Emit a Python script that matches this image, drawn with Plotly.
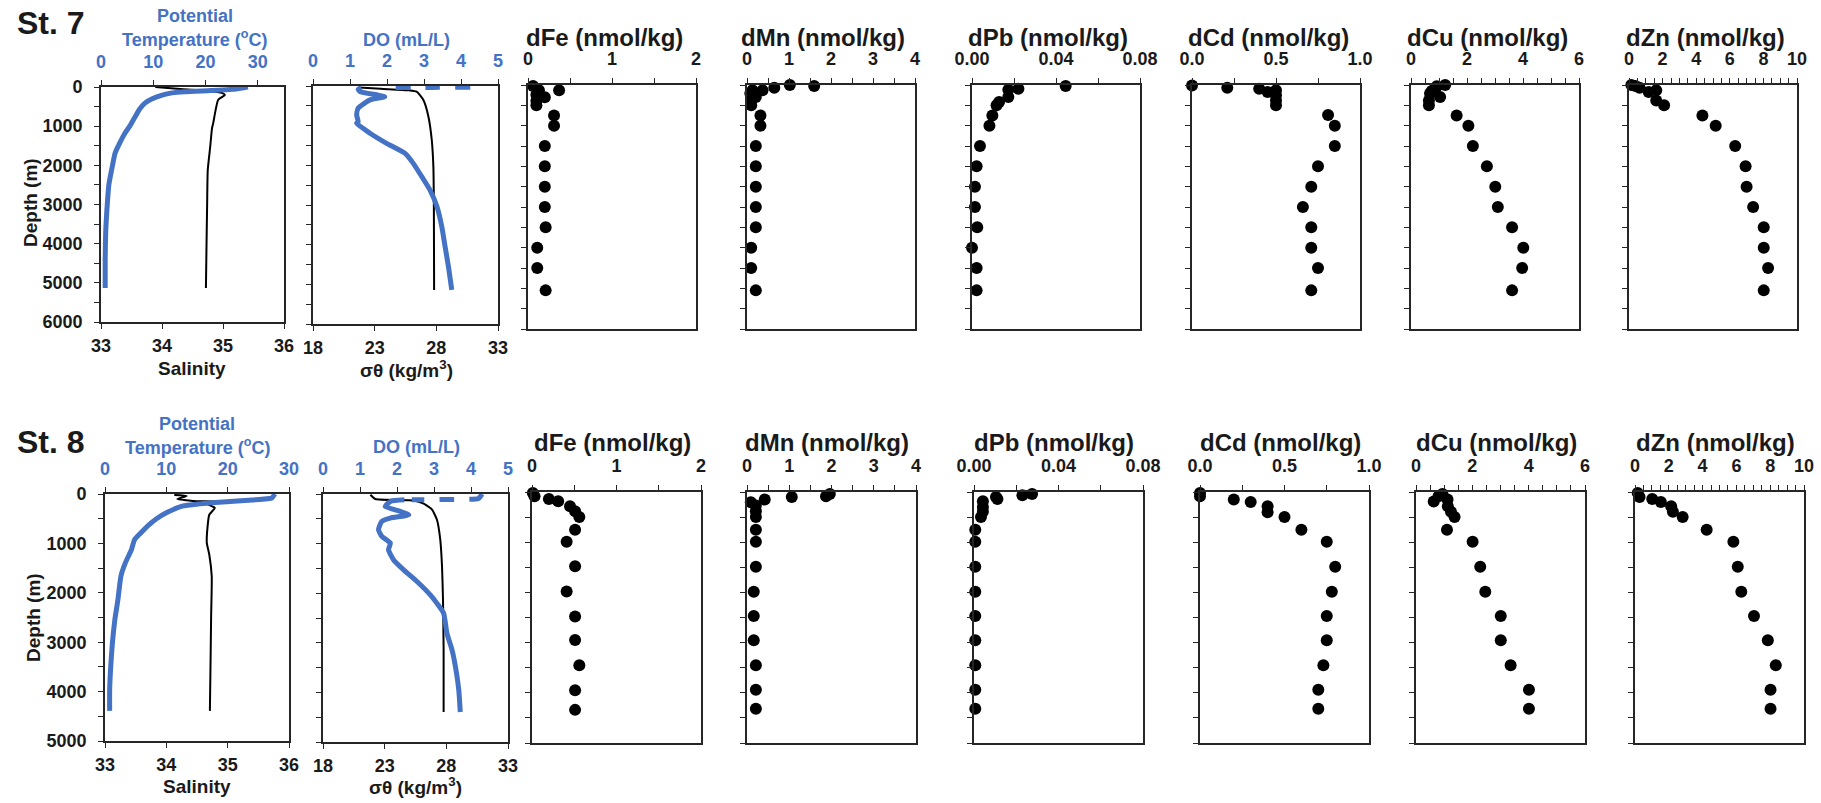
import plotly.graph_objects as go

W, H = 1821, 803
BLUE = "#4472C4"
LC = "#262626"
TC = "#1a1a1a"
FONT = "Liberation Sans"

# ---------------- Station 7 CTD ----------------
temp7_depth = [0, 25, 60, 90, 120, 150, 205, 300, 410, 560, 765, 1000, 1175, 1450, 1685, 2070, 2500, 3000, 3700, 4400, 5130]
temp7 = [28.1, 27.0, 25.0, 21.0, 16.0, 13.6, 11.7, 9.8, 8.4, 7.4, 6.5, 5.5, 4.6, 3.5, 2.7, 2.1, 1.5, 1.2, 0.9, 0.8, 0.8]
sal7_depth = [0, 50, 100, 150, 205, 330, 660, 920, 1050, 1530, 2120, 3000, 4000, 5130]
sal7 = [33.89, 34.30, 34.75, 34.98, 35.03, 34.92, 34.87, 34.84, 34.82, 34.79, 34.75, 34.74, 34.73, 34.72]
do7_surf_depth = [30, 35, 40]
do7_surf = [4.25, 3.20, 2.00]
do7_depth = [40, 85, 140, 230, 270, 350, 560, 730, 900, 940, 1190, 1445, 1700, 1950, 2285, 2620, 3040, 3545, 4050, 4550, 5140]
do7 = [1.30, 1.22, 1.27, 1.76, 1.94, 1.54, 1.22, 1.18, 1.22, 1.18, 1.54, 1.99, 2.49, 2.71, 2.94, 3.16, 3.35, 3.48, 3.57, 3.66, 3.75]
sig7_depth = [35, 70, 110, 143, 353, 773, 1361, 2033, 3000, 5140]
sig7 = [21.7, 23.5, 25.8, 26.4, 26.95, 27.36, 27.63, 27.76, 27.80, 27.82]

# ---------------- Station 7 metals (nmol/kg) ----------------
dFe7_depth = [25, 90, 130, 130, 240, 300, 390, 500, 750, 1000, 1500, 2000, 2500, 3000, 3500, 4000, 4500, 5050]
dFe7 = [0.06, 0.11, 0.13, 0.37, 0.10, 0.20, 0.10, 0.10, 0.31, 0.31, 0.20, 0.20, 0.20, 0.20, 0.21, 0.11, 0.11, 0.21]
dMn7_depth = [0, 25, 65, 130, 130, 200, 295, 375, 500, 750, 1000, 1500, 2000, 2500, 3000, 3500, 4000, 4500, 5050]
dMn7 = [1.02, 1.60, 0.65, 0.37, 0.13, 0.08, 0.21, 0.10, 0.10, 0.32, 0.32, 0.21, 0.21, 0.21, 0.21, 0.21, 0.10, 0.10, 0.21]
dPb7_depth = [25, 90, 115, 295, 420, 500, 750, 1000, 1500, 2000, 2500, 3000, 3500, 4000, 4500, 5050]
dPb7 = [0.0446, 0.0221, 0.0173, 0.0173, 0.0129, 0.0117, 0.0097, 0.0083, 0.0038, 0.0022, 0.0014, 0.0014, 0.0025, 0.0000, 0.0022, 0.0022]
dCd7_depth = [10, 65, 90, 170, 130, 250, 380, 500, 740, 1000, 1500, 2000, 2500, 3000, 3500, 4000, 4500, 5050]
dCd7 = [0.00, 0.21, 0.40, 0.45, 0.50, 0.50, 0.50, 0.50, 0.81, 0.85, 0.85, 0.75, 0.71, 0.66, 0.71, 0.71, 0.75, 0.71]
dCu7_depth = [0, 30, 90, 150, 210, 295, 380, 500, 750, 1000, 1500, 2000, 2500, 3000, 3500, 4000, 4500, 5050]
dCu7 = [1.22, 0.92, 0.86, 0.74, 0.68, 1.04, 0.64, 0.64, 1.63, 2.05, 2.21, 2.71, 3.01, 3.10, 3.61, 4.01, 3.97, 3.61]
dZn7_depth = [0, 25, 65, 170, 130, 380, 500, 750, 1000, 1500, 2000, 2500, 3000, 3500, 4000, 4500, 5050]
dZn7 = [0.14, 0.38, 0.63, 1.17, 1.62, 1.62, 2.09, 4.37, 5.16, 6.32, 6.94, 7.00, 7.39, 8.02, 8.02, 8.28, 8.02]

# ---------------- Station 8 CTD ----------------
temp8_depth = [0, 80, 120, 160, 200, 245, 380, 500, 620, 780, 930, 1130, 1400, 1660, 2145, 2550, 3025, 3500, 3970, 4390]
temp8 = [27.7, 27.2, 24.0, 19.2, 15.4, 12.6, 10.0, 8.4, 7.2, 5.9, 4.8, 4.3, 3.3, 2.6, 2.1, 1.6, 1.2, 0.93, 0.76, 0.76]
sal8_depth = [20, 40, 100, 140, 160, 200, 280, 420, 690, 990, 1225, 1660, 2500, 3500, 4390]
sal8 = [34.13, 34.33, 34.18, 34.43, 34.87, 34.66, 34.79, 34.70, 34.67, 34.66, 34.70, 34.74, 34.73, 34.72, 34.71]
do8_surf_depth = [0, 90, 110, 118]
do8_surf = [4.30, 4.20, 3.30, 2.40]
do8_depth = [118, 150, 250, 350, 420, 485, 550, 720, 855, 990, 1125, 1330, 1530, 1765, 2035, 2205, 2405, 2810, 3150, 3485, 3955, 4395]
do8 = [2.20, 1.82, 1.68, 2.09, 2.32, 1.82, 1.59, 1.50, 1.59, 1.82, 1.77, 1.91, 2.18, 2.54, 2.90, 3.08, 3.26, 3.35, 3.49, 3.58, 3.67, 3.71]
sig8_depth = [15, 100, 130, 195, 315, 520, 925, 1460, 2135, 3150, 4395]
sig8 = [21.84, 22.24, 25.35, 26.16, 26.84, 27.24, 27.51, 27.65, 27.73, 27.78, 27.78]

# ---------------- Station 8 metals (nmol/kg) ----------------
dFe8_depth = [20, 86, 140, 186, 285, 385, 500, 750, 990, 1480, 1980, 2480, 2950, 3450, 3950, 4340]
dFe8 = [0.01, 0.03, 0.20, 0.31, 0.45, 0.51, 0.56, 0.51, 0.41, 0.51, 0.41, 0.51, 0.51, 0.56, 0.51, 0.51]
dMn8_depth = [40, 86, 100, 150, 205, 270, 385, 500, 750, 990, 1490, 1985, 2470, 2955, 3450, 3940, 4320]
dMn8 = [1.96, 1.87, 1.06, 0.42, 0.09, 0.21, 0.21, 0.21, 0.21, 0.21, 0.21, 0.16, 0.16, 0.16, 0.21, 0.21, 0.21]
dPb8_depth = [40, 66, 100, 140, 186, 300, 392, 500, 750, 990, 1490, 1985, 2470, 2955, 3450, 3940, 4320]
dPb8 = [0.0275, 0.0229, 0.0104, 0.0111, 0.0042, 0.0042, 0.0042, 0.0033, 0.0006, 0.0006, 0.0006, 0.0006, 0.0006, 0.0006, 0.0006, 0.0006, 0.0006]
dCd8_depth = [20, 86, 150, 200, 285, 405, 500, 750, 990, 1490, 1985, 2470, 2955, 3450, 3940, 4320]
dCd8 = [0.00, 0.00, 0.20, 0.30, 0.40, 0.40, 0.50, 0.60, 0.75, 0.80, 0.78, 0.75, 0.75, 0.73, 0.70, 0.70]
dCu8_depth = [40, 86, 150, 190, 285, 392, 500, 750, 990, 1490, 1985, 2470, 2955, 3450, 3940, 4320]
dCu8 = [0.94, 0.80, 1.12, 0.63, 1.13, 1.24, 1.37, 1.10, 2.01, 2.28, 2.46, 3.01, 3.01, 3.36, 4.01, 4.01]
dZn8_depth = [20, 100, 140, 200, 285, 392, 500, 750, 990, 1490, 1985, 2470, 2955, 3450, 3940, 4320]
dZn8 = [0.16, 0.27, 1.02, 1.53, 2.14, 2.24, 2.82, 4.24, 5.82, 6.08, 6.29, 7.04, 7.86, 8.33, 8.02, 8.02]

# ---------------- axis tick settings ----------------
metal_names = ["dFe", "dMn", "dPb", "dCd", "dCu", "dZn"]
metal_max = [2, 4, 0.08, 1.0, 6, 10]
metal_dtick = [1, 1, 0.04, 0.5, 2, 2]
metal_minor = [0.5, 0.5, 0.02, 0.25, 0.5, 0.5]
metal_fmt = ["d", "d", ".2f", ".1f", "d", "d"]
temp_ticks = [0, 10, 20, 30]
sal_ticks = [33, 34, 35, 36]
do_ticks = [0, 1, 2, 3, 4, 5]
sig_ticks = [18, 23, 28, 33]

# ---------------- layout helpers ----------------
fig = go.Figure()
layout = {}
annotations = []
cnt = {"x": 0, "y": 0}


def new(p):
    cnt[p] += 1
    return cnt[p]


def ref(p, i):
    return p if i == 1 else f"{p}{i}"


def key(p, i):
    return f"{p}axis" if i == 1 else f"{p}axis{i}"


def tfont(color=TC, size=18):
    return dict(family=FONT, size=size, color=color, weight="bold")


AX = dict(showgrid=False, zeroline=False, showline=True, linecolor=LC, linewidth=1.6,
          ticks="outside", ticklen=5, tickwidth=1.3, tickcolor=LC, tickfont=tfont())
MINOR = dict(ticks="outside", ticklen=5, tickwidth=1.3, tickcolor=LC)


def txt(s, x, y, size, color=TC, xanchor="center", angle=0):
    annotations.append(dict(text=s, x=x / W, y=1 - y / H, xref="paper", yref="paper",
                            xanchor=xanchor, yanchor="middle", showarrow=False,
                            font=tfont(color, size), textangle=angle))


def yaxis(yi, xi, y0, y1, ymax, labels):
    d = dict(AX, domain=[1 - y1 / H, 1 - y0 / H], range=[ymax, 0], anchor=ref("x", xi),
             mirror=True, tickmode="linear", tick0=0)
    if labels:
        d.update(dtick=1000, minor=dict(MINOR, dtick=500), ticklabelstandoff=8)
    else:
        d.update(dtick=500, showticklabels=False)
    layout[key("y", yi)] = d


def ctd_panel(x0, x1, y0, y1, ymax, labels, bot_rng, bot_ticks, top_rng, top_ticks,
              bot_series, top_series):
    xb, xt, yi = new("x"), new("x"), new("y")
    layout[key("x", xb)] = dict(AX, domain=[x0 / W, x1 / W], anchor=ref("y", yi), side="bottom",
                                range=bot_rng, tickvals=bot_ticks, mirror=True, ticklabelstandoff=2)
    layout[key("x", xt)] = dict(AX, overlaying=ref("x", xb), anchor=ref("y", yi), side="top",
                                range=top_rng, tickvals=top_ticks, tickfont=tfont(BLUE),
                                ticklabelstandoff=5)
    yaxis(yi, xb, y0, y1, ymax, labels)
    for xs, ys, dash in bot_series:
        fig.add_trace(go.Scatter(x=xs, y=ys, xaxis=ref("x", xb), yaxis=ref("y", yi),
                                 mode="lines", line=dict(color="black", width=2, dash=dash, shape="spline", smoothing=0.5),
                                 showlegend=False, cliponaxis=False))
    for xs, ys, dash in top_series:
        fig.add_trace(go.Scatter(x=xs, y=ys, xaxis=ref("x", xt), yaxis=ref("y", yi),
                                 mode="lines", line=dict(color=BLUE, width=5, dash=dash, shape="spline", smoothing=0.5),
                                 showlegend=False, cliponaxis=False))


def metal_panel(x0, x1, y0, y1, ymax, m, xs, ys):
    xi, yi = new("x"), new("y")
    layout[key("x", xi)] = dict(AX, domain=[x0 / W, x1 / W], anchor=ref("y", yi), side="top",
                                range=[0, metal_max[m]], tickmode="linear", tick0=0,
                                dtick=metal_dtick[m], tickformat=metal_fmt[m],
                                minor=dict(MINOR, dtick=metal_minor[m]), mirror=True,
                                ticklabelstandoff=6)
    yaxis(yi, xi, y0, y1, ymax, False)
    fig.add_trace(go.Scatter(x=xs, y=ys, xaxis=ref("x", xi), yaxis=ref("y", yi), mode="markers",
                             marker=dict(color="black", size=12, symbol="circle"),
                             showlegend=False, cliponaxis=False))


# ---------------- Row 1 : St. 7 ----------------
ctd_panel(101, 284, 87, 322, 6000, True, [33, 36], sal_ticks, [0, 35], temp_ticks,
          [(sal7, sal7_depth, "solid")], [(temp7, temp7_depth, "solid")])
ctd_panel(313, 498, 86, 324, 6000, False, [18, 33], sig_ticks, [0, 5], do_ticks,
          [(sig7, sig7_depth, "solid")], [(do7_surf, do7_surf_depth, "dash"), (do7, do7_depth, "solid")])
metals7 = [(dFe7, dFe7_depth), (dMn7, dMn7_depth), (dPb7, dPb7_depth),
           (dCd7, dCd7_depth), (dCu7, dCu7_depth), (dZn7, dZn7_depth)]
x_left7 = [528, 747, 972, 1192, 1411, 1629]
for m, (vals, dep) in enumerate(metals7):
    metal_panel(x_left7[m], x_left7[m] + 168, 85, 329, 6000, m, vals, dep)
    txt(f"{metal_names[m]} (nmol/kg)", x_left7[m] + 76, 38, 24)

txt("St. 7", 15, 23, 32, xanchor="left")
txt("Potential", 195, 16, 18, BLUE)
txt("Temperature (<sup>o</sup>C)", 194, 39, 18, BLUE)
txt("Depth (m)", 30, 203, 19, angle=-90)
txt("Salinity", 192, 368, 19)
txt("DO (mL/L)", 406, 40, 18, BLUE)
txt("σθ (kg/m<sup>3</sup>)", 406, 369, 19)

# ---------------- Row 2 : St. 8 ----------------
ctd_panel(105, 289, 494, 741, 5000, True, [33, 36], sal_ticks, [0, 30], temp_ticks,
          [(sal8, sal8_depth, "solid")], [(temp8, temp8_depth, "solid")])
ctd_panel(323, 508, 494, 742, 5000, False, [18, 33], sig_ticks, [0, 5], do_ticks,
          [(sig8, sig8_depth, "solid")], [(do8_surf, do8_surf_depth, "dash"), (do8, do8_depth, "solid")])
metals8 = [(dFe8, dFe8_depth), (dMn8, dMn8_depth), (dPb8, dPb8_depth),
           (dCd8, dCd8_depth), (dCu8, dCu8_depth), (dZn8, dZn8_depth)]
x_left8 = [532, 747, 974, 1200, 1416, 1635]
for m, (vals, dep) in enumerate(metals8):
    metal_panel(x_left8[m], x_left8[m] + 169, 492, 743, 5000, m, vals, dep)
    txt(f"{metal_names[m]} (nmol/kg)", x_left8[m] + 80, 442, 24)

txt("St. 8", 15, 442, 32, xanchor="left")
txt("Potential", 197, 424, 18, BLUE)
txt("Temperature (<sup>o</sup>C)", 197, 446, 18, BLUE)
txt("Depth (m)", 33, 618, 19, angle=-90)
txt("Salinity", 197, 786, 19)
txt("DO (mL/L)", 416, 447, 18, BLUE)
txt("σθ (kg/m<sup>3</sup>)", 415, 786, 19)

fig.update_layout(width=W, height=H, margin=dict(l=0, r=0, t=0, b=0, autoexpand=False),
                  paper_bgcolor="white", plot_bgcolor="white", showlegend=False,
                  font=dict(family=FONT, color=TC), annotations=annotations, **layout)
fig.write_html("out.html", config={"displayModeBar": False},
               post_script="document.body.style.margin='0';document.body.style.overflow='hidden';")
